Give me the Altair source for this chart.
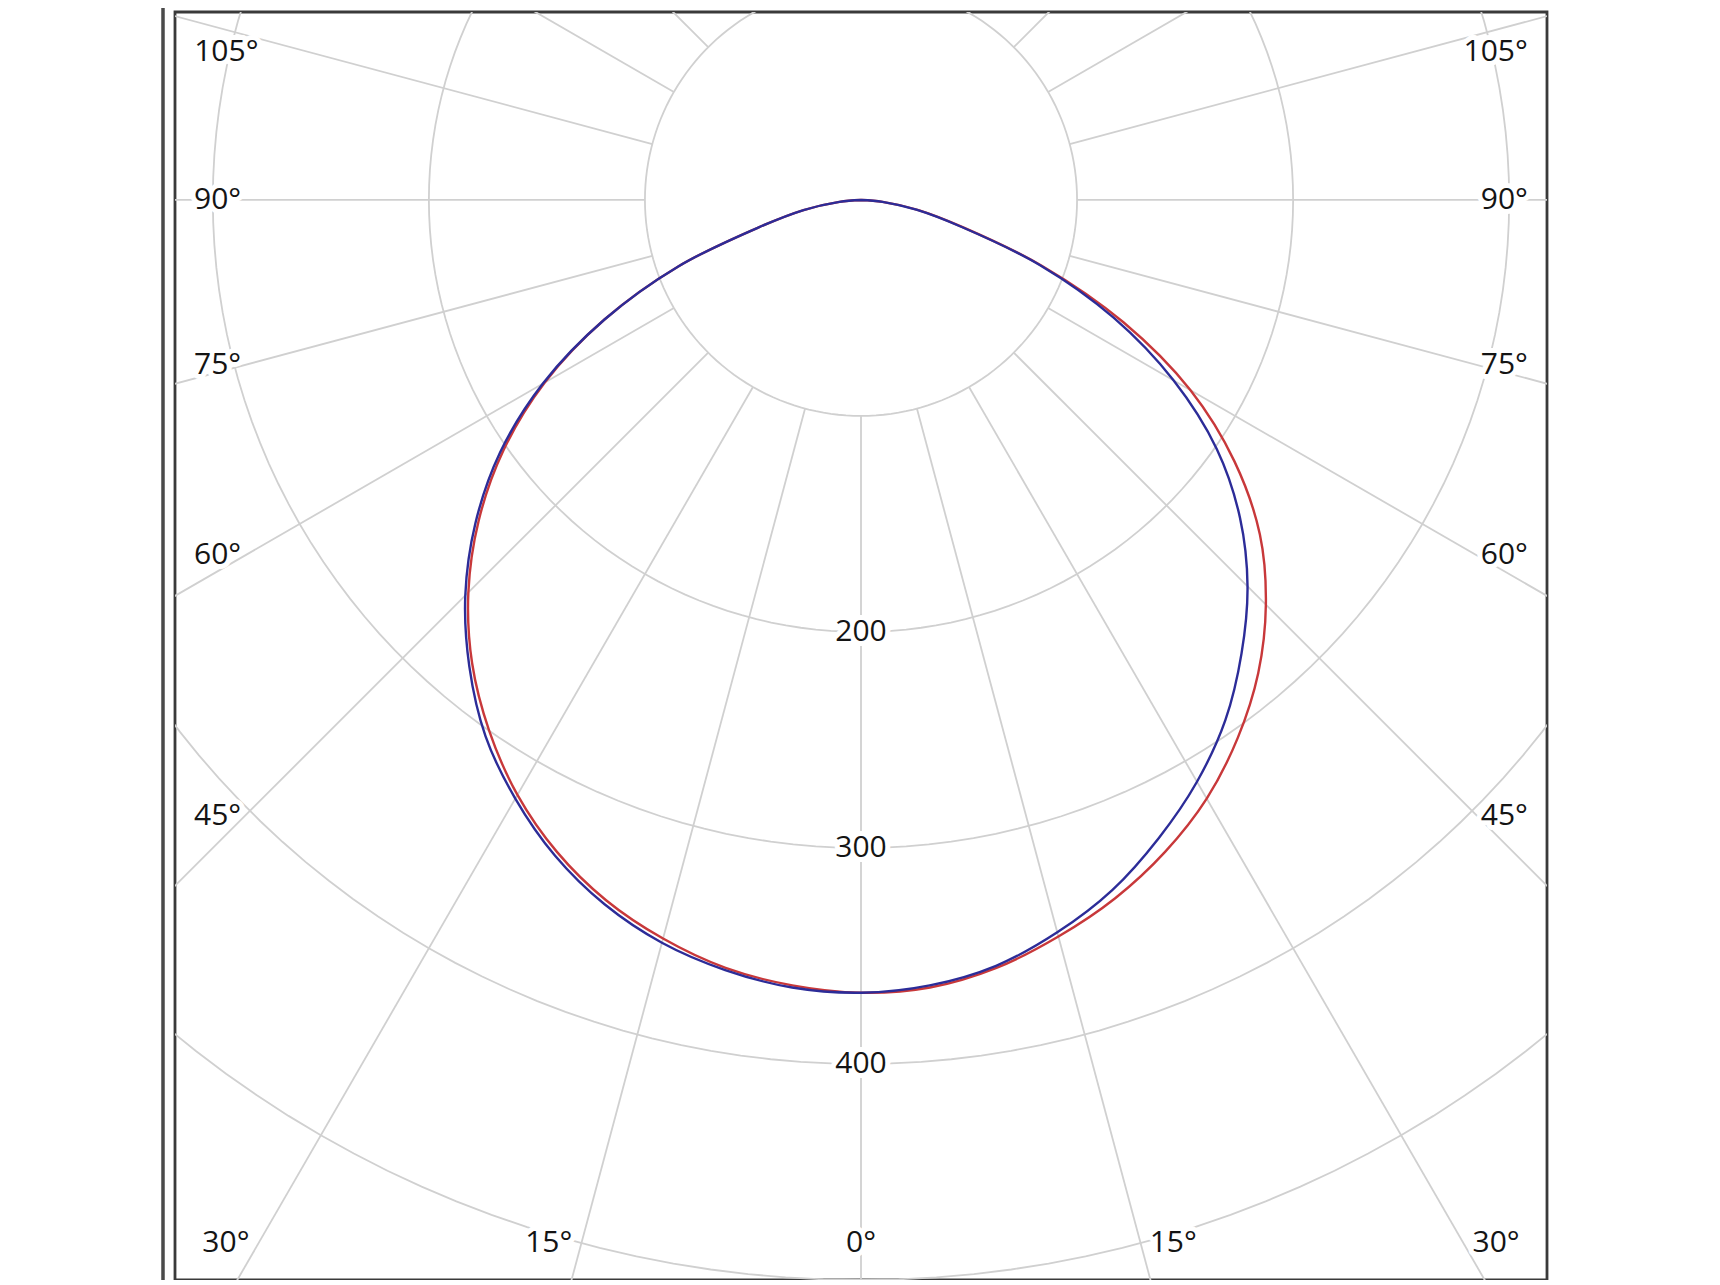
import math
import altair as alt
import pandas as pd

# ---------------- data (cd) ----------------
ANGLES = [0, 5, 10, 15, 20, 25, 30, 35, 40, 45, 50, 55, 60, 65, 70, 75, 80, 85, 90]
RED_RIGHT = [367, 366, 361, 353, 344, 333, 320, 304, 286, 265, 241, 211, 176, 134, 89, 49, 27, 10, 0]
RED_LEFT = [367, 365, 361, 354, 345, 333, 318, 300, 280, 257, 231, 202, 169, 131, 90, 49, 27, 10, 0]
BLUE_RIGHT = [367, 365, 360, 351, 340, 326, 311, 294, 274, 253, 229, 201, 167, 129, 88, 48, 26, 10, 0]
BLUE_LEFT = [367, 366, 362, 356, 347, 335, 320, 303, 282, 259, 233, 204, 170, 131, 90, 49, 27, 10, 0]

GRID_RADII = [100, 200, 300, 400, 500, 600]
SPOKE_ANGLES = list(range(0, 360, 15))
RADIUS_LABELS = [200, 300, 400]
SIDE_LABEL_ANGLES = [105, 90, 75, 60, 45]
BOTTOM_LABEL_ANGLES = [30, 15, 0]

# ---------------- layout ----------------
X_DOMAIN = [-317.5, 317.5]
Y_DOMAIN = [-500, 87]
SIDE_X = 285.0
TOP_LIMIT = 68.7
TOP_INSET = 8.0
BOTTOM_Y = -483.0
RED = "#c8383a"
BLUE = "#2c2c98"
GRID = "#d0d0d0"
FONT = "Open Sans"
FS = 30

xs = alt.Scale(domain=X_DOMAIN, nice=False, zero=False)
ys = alt.Scale(domain=Y_DOMAIN, nice=False, zero=False)
X = alt.X("x:Q", scale=xs, axis=None)
Y = alt.Y("y:Q", scale=ys, axis=None)


def curve_df(name, left, right):
    rows = []
    k = 0
    for a, v in zip(reversed(ANGLES), reversed(left)):
        rows.append({"series": name, "order": k, "theta": -a, "I": v})
        k += 1
    for a, v in zip(ANGLES[1:], right[1:]):
        rows.append({"series": name, "order": k, "theta": a, "I": v})
        k += 1
    return pd.DataFrame(rows)


def curve_layer(df, color):
    return (
        alt.Chart(df)
        .transform_calculate(
            x="datum.I * sin(datum.theta * PI / 180)",
            y="-datum.I * cos(datum.theta * PI / 180)",
        )
        .mark_line(color=color, strokeWidth=2.4, interpolate="catmull-rom", clip=True)
        .encode(x=X, y=Y, order="order:Q")
    )


# grid circles
circ_rows = []
for r in GRID_RADII:
    for a in range(0, 361, 2):
        circ_rows.append({"r": r, "a": a})
circles = (
    alt.Chart(pd.DataFrame(circ_rows))
    .transform_calculate(
        x="datum.r * sin(datum.a * PI / 180)",
        y="-datum.r * cos(datum.a * PI / 180)",
    )
    .mark_line(color=GRID, strokeWidth=1.8, clip=True)
    .encode(x=X, y=Y, detail="r:N", order="a:Q")
)

spokes = (
    alt.Chart(pd.DataFrame({"a": SPOKE_ANGLES}))
    .transform_calculate(
        x=f"{GRID_RADII[0]} * sin(datum.a * PI / 180)",
        y=f"-{GRID_RADII[0]} * cos(datum.a * PI / 180)",
        x2="900 * sin(datum.a * PI / 180)",
        y2="-900 * cos(datum.a * PI / 180)",
    )
    .mark_rule(color=GRID, strokeWidth=1.8, clip=True)
    .encode(x=X, y=Y, x2="x2:Q", y2="y2:Q")
)

# labels
left_rows, right_rows, center_rows = [], [], []
for t in SIDE_LABEL_ANGLES:
    rad = math.radians(t)
    yy = -SIDE_X * math.cos(rad) / math.sin(rad)
    sx = SIDE_X
    if yy > TOP_LIMIT:
        yy = TOP_LIMIT
        sx = SIDE_X - TOP_INSET
    left_rows.append({"x": -sx, "y": yy, "label": f"{t}°"})
    right_rows.append({"x": sx, "y": yy, "label": f"{t}°"})
bl_rows, br_rows = [], []
for t in BOTTOM_LABEL_ANGLES:
    xx = -BOTTOM_Y * math.tan(math.radians(t))
    if t == 0:
        center_rows.append({"x": 0.0, "y": BOTTOM_Y, "label": "0°"})
    else:
        bl_rows.append({"x": -xx, "y": BOTTOM_Y, "label": f"{t}°"})
        br_rows.append({"x": xx, "y": BOTTOM_Y, "label": f"{t}°"})
for r in RADIUS_LABELS:
    center_rows.append({"x": 0.0, "y": -float(r), "label": str(r)})


def text_layers(rows, align, dx):
    base = alt.Chart(pd.DataFrame(rows))
    halo = base.mark_text(
        align=align, baseline="middle", dx=dx, font=FONT, fontSize=FS,
        stroke="white", strokeWidth=10, strokeJoin="round", fill="white",
    ).encode(x=X, y=Y, text="label:N")
    txt = base.mark_text(
        align=align, baseline="middle", dx=dx, font=FONT, fontSize=FS, fill="#141414",
    ).encode(x=X, y=Y, text="label:N")
    return [halo, txt]


outer_line = (
    alt.Chart(pd.DataFrame({"k": [0]}))
    .mark_rule(color="#4a4a4a", strokeWidth=3.5)
    .encode(x=alt.value(-12), y=alt.value(-20), y2=alt.value(1300))
)

layers = [circles, spokes]
layers += text_layers(left_rows, "right", -4)
layers += text_layers(right_rows, "left", 4)
layers += text_layers(bl_rows, "right", -9)
layers += text_layers(br_rows, "left", 9)
layers += text_layers(center_rows, "center", 0)
layers += [
    curve_layer(curve_df("C0-C180", RED_LEFT, RED_RIGHT), RED),
    curve_layer(curve_df("C90-C270", BLUE_LEFT, BLUE_RIGHT), BLUE),
    outer_line,
]

chart = (
    alt.layer(*layers)
    .properties(
        width=1372,
        height=1268,
        padding={"left": 167, "top": 4, "right": 5, "bottom": 0},
        autosize=alt.AutoSizeParams(type="none"),
        background="white",
    )
    .configure_view(stroke="#3a3a3a", strokeWidth=2.8)
)

chart.save("out.html", embed_options={"renderer": "svg", "actions": False})
